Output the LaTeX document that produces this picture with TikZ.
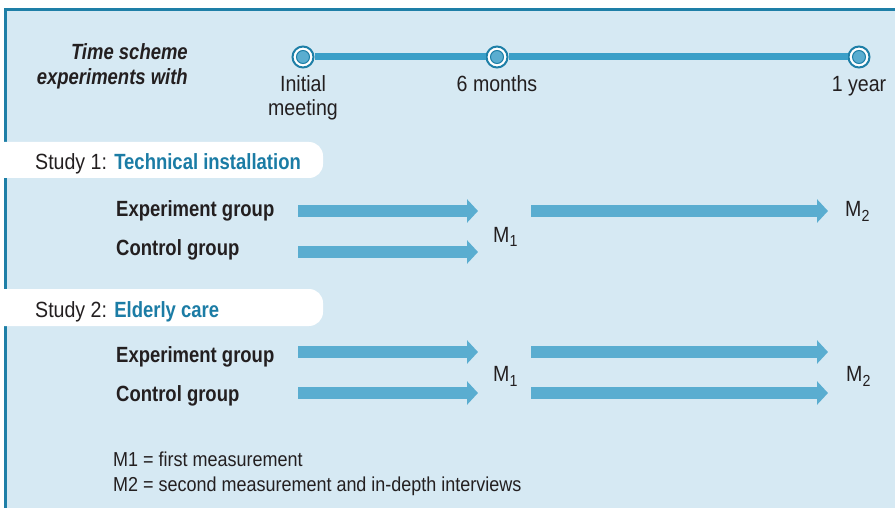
\documentclass[tikz,border=0pt]{standalone}
\usepackage{fontspec}
\setmainfont{Liberation Sans}[FakeStretch=0.89, BoldFeatures={FakeStretch=0.84}, BoldItalicFeatures={FakeStretch=0.84}]
\usetikzlibrary{positioning,arrows.meta}
\definecolor{panel}{HTML}{D6E9F3}
\definecolor{frame}{HTML}{1E7FA7}
\definecolor{lineblue}{HTML}{3A9FC8}
\definecolor{arrowblue}{HTML}{5AADD0}
\definecolor{dotblue}{HTML}{5AADD0}
\definecolor{studyblue}{HTML}{1B7CA5}
\definecolor{textgray}{HTML}{231F20}
\tikzset{
  milestone/.style={circle, draw=frame, line width=2pt, fill=white, minimum size=21pt, inner sep=0pt,
    path picture={\filldraw[fill=dotblue, draw=frame, line width=1pt] (path picture bounding box.center) circle (6.5pt);}},
  timeline/.style={draw=lineblue, line width=7pt},
  flow/.style={draw=arrowblue, line width=12pt, -{Triangle[length=11pt,width=23pt]}},
  tab/.style={fill=white, rounded corners=14pt},
  label/.style={anchor=base west, inner sep=0pt},
  group/.style={label, font=\fontsize{22}{25}\selectfont\bfseries},
  heading/.style={align=right, font=\fontsize{22}{25}\selectfont\bfseries\itshape}
}
\newcommand{\msub}[1]{\raisebox{-5pt}{\fontsize{16}{16}\selectfont #1}}
\begin{document}
\begin{tikzpicture}[x=1pt, y=-1pt, node distance=4pt, font=\fontsize{22}{23.5}\selectfont, text=textgray]
  \useasboundingbox (0,0) rectangle (895,508);
  \draw[fill=panel, draw=frame, line width=3pt] (5,9.5) rectangle (930,540);
  % time line
  \node[milestone](start) at (303,57) {};
  \node[milestone](half) at (497,57) {};
  \node[milestone](year) at (859,57) {};
  \draw[timeline] (start) -- (half) -- (year);
  \node[below=of start, align=center](startl) {Initial\\meeting};
  \node[below=of half](halfl) {6 months};
  \node[below=of year](yearl) {1 year};
  \node[heading, anchor=base east, inner sep=0pt](scheme) at (188,85) {Time scheme\\experiments with};
  % study tabs
  \fill[tab] (-20,142) rectangle (323,178);
  \fill[tab] (-20,289) rectangle (323,326);
  \node[label](study1) at (35,170) {Study 1: \textbf{\textcolor{studyblue}{Technical installation}}};
  \node[label](study2) at (35,317) {Study 2: \textbf{\textcolor{studyblue}{Elderly care}}};
  % groups
  \node[group](exp1) at (116,216) {Experiment group};
  \node[group](ctl1) at (116,255) {Control group};
  \node[group](exp2) at (116,362) {Experiment group};
  \node[group](ctl2) at (116,401) {Control group};
  \foreach \r/\y in {exp1/211, ctl1/252, exp2/352, ctl2/393} {
    \coordinate (\r-in) at (298,\y);
    \coordinate (\r-mid) at (478,\y);
    \coordinate (\r-out) at (531,\y);
    \coordinate (\r-end) at (828,\y);
    \draw[flow] (\r-in) -- (\r-mid);
  }
  \foreach \r in {exp1, exp2, ctl2}
    \draw[flow] (\r-out) -- (\r-end);
  \node[label](m1a) at (493,242) {M\msub{1}};
  \node[label](m2a) at (845,217) {M\msub{2}};
  \node[label](m1b) at (493,381) {M\msub{1}};
  \node[label](m2b) at (846,381) {M\msub{2}};
  % legend
  \node[label, font=\fontsize{20.2}{25}\selectfont](key) at (113,466)
    {\begin{tabular}[t]{@{}l@{\ }l@{}}M1 = & first measurement\\ M2 = & second measurement and in-depth interviews\end{tabular}};
\end{tikzpicture}
\end{document}
